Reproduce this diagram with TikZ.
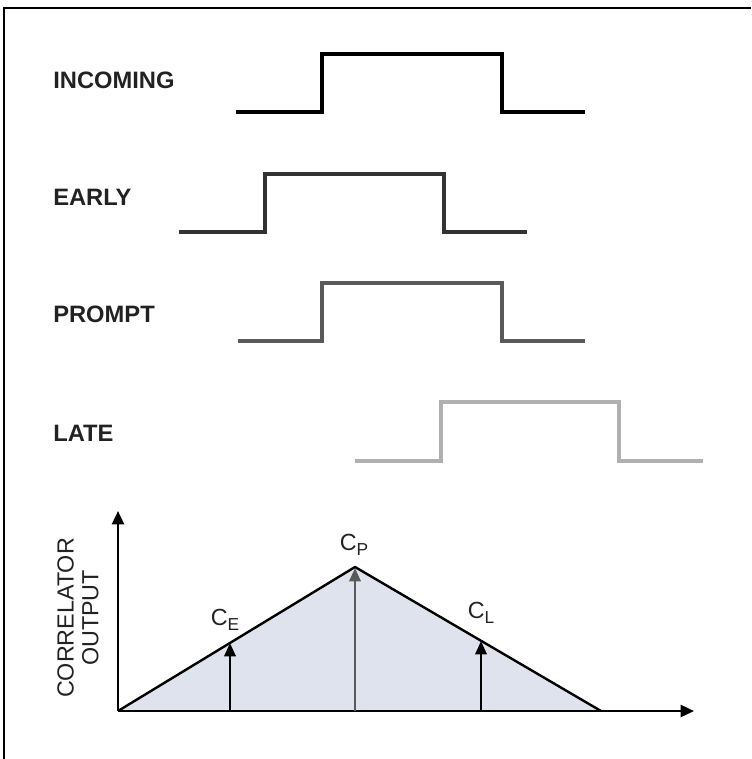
\documentclass[tikz,border=0pt]{standalone}
\usepackage{fontspec}
\setmainfont{Liberation Sans}
\usetikzlibrary{arrows.meta}
\definecolor{fillc}{HTML}{DEE3EE}
\definecolor{earlyc}{HTML}{333333}
\definecolor{promptc}{HTML}{5A5A5A}
\definecolor{latec}{HTML}{B0B0B0}
\definecolor{txtc}{HTML}{222222}
\begin{document}
\begin{tikzpicture}[x=0.75pt,y=-0.75pt,
  lbl/.style={anchor=west,inner sep=0pt,font=\fontsize{17.8}{20}\selectfont\bfseries,text=txtc},
  wave/.style={line width=2.6pt,line join=miter},
  axis/.style={line width=1.8pt,-{Triangle[length=10pt,width=9pt]}},
  sig/.style={line width=1.8pt,-{Triangle[length=10pt,width=8.5pt]}},
  cl/.style={inner sep=0pt,font=\fontsize{17.5}{19}\selectfont,text=txtc}]
\useasboundingbox (0,0) rectangle (751,759);
% frame
\draw[line width=2pt] (3,8) -- (751,8);
\draw[line width=2pt] (4,8) -- (4,759);
% labels
\node[lbl] (inc) at (53,80) {INCOMING};
\node[lbl] (ear) at (53,197) {EARLY};
\node[lbl] (pro) at (53,314) {PROMPT};
\node[lbl] (lat) at (53,433) {LATE};
% waveforms
\draw[wave,black] (236,112) -- (322,112) -- (322,54) -- (502,54) -- (502,112) -- (585,112);
\draw[wave,earlyc] (179,232) -- (265,232) -- (265,174) -- (444,174) -- (444,232) -- (527,232);
\draw[wave,promptc] (238,341) -- (322,341) -- (322,283) -- (502,283) -- (502,341) -- (585,341);
\draw[wave,latec] (355,461) -- (441,461) -- (441,402) -- (619,402) -- (619,461) -- (703,461);
% correlator chart
\coordinate (o) at (118,711);
\coordinate (pk) at (355,567);
\coordinate (end) at (601,711);
\fill[fillc] (o) -- (pk) -- (end) -- cycle;
\draw[line width=1.8pt,line join=round] (o) -- (pk) -- (end);
\coordinate (ytip) at (118,511);
\coordinate (xtip) at (694,711);
\draw[axis] (o) -- (ytip);
\draw[axis] (o) -- (xtip);
\coordinate (eb) at (230,711);
\coordinate (et) at (230,643);
\coordinate (pb) at (355,711);
\coordinate (pt) at (355,568);
\coordinate (lb) at (481,711);
\coordinate (lt) at (481,641);
\draw[sig,black] (eb) -- (et);
\draw[sig,promptc] (pb) -- (pt);
\draw[sig,black] (lb) -- (lt);
\node[cl] (ce) at (225,620) {C\raisebox{-0.4ex}{\fontsize{13}{14}\selectfont E}};
\node[cl] (cp) at (354,545) {C\raisebox{-0.4ex}{\fontsize{13}{14}\selectfont P}};
\node[cl] (cll) at (481,613) {C\raisebox{-0.4ex}{\fontsize{13}{14}\selectfont L}};
\node[rotate=90,align=center,inner sep=0pt,font=\fontsize{17.5}{18.5}\selectfont,text=txtc] (co) at (78,618) {CORRELATOR\\OUTPUT};
\end{tikzpicture}
\end{document}
